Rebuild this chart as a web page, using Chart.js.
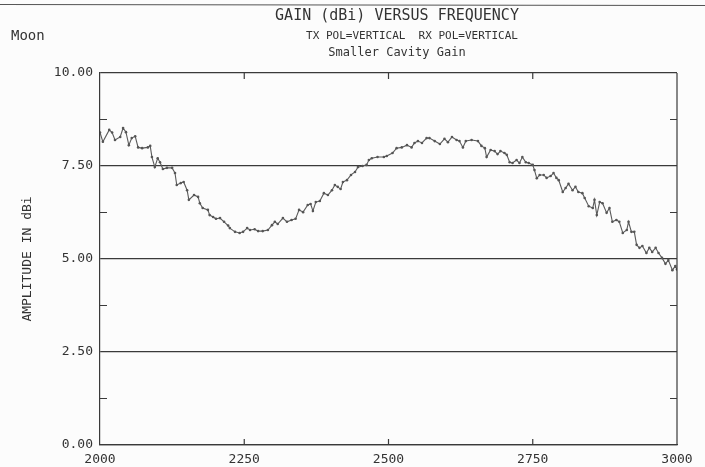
<!DOCTYPE html>
<html>
<head>
<meta charset="utf-8">
<script src="https://cdn.jsdelivr.net/npm/chart.js@4.4.1/dist/chart.umd.min.js"></script>
<style>
  html, body { margin: 0; padding: 0; background: #fcfcfc; }
  #wrap { width: 705px; height: 467px; }
</style>
</head>
<body>
<div id="wrap"><canvas id="gainChart" width="705" height="467"></canvas></div>
<script>
// frequency (MHz) and gain (dBi)
const freqs = [
    2000, 2005, 2016, 2021, 2026, 2035, 2040, 2045, 2050, 2055, 2061, 2066, 2073, 2083, 2087, 2090,
    2095, 2100, 2104, 2109, 2116, 2125, 2130, 2133, 2140, 2145, 2151, 2154, 2163, 2170, 2173, 2178,
    2187, 2190, 2196, 2201, 2208, 2215, 2222,
    2225, 2234, 2242, 2248, 2255, 2260, 2268, 2274, 2282, 2291, 2298, 2303, 2308, 2317, 2324, 2332,
    2339, 2345, 2352, 2360, 2365, 2369, 2374, 2381, 2388, 2395, 2402, 2407, 2412, 2417, 2421, 2428,
    2435, 2442, 2447, 2455, 2462, 2466, 2471, 2481, 2492,
    2497, 2507, 2514, 2523, 2532, 2540, 2545, 2551, 2558, 2566, 2571, 2580, 2589, 2597, 2603, 2610,
    2618, 2623, 2629, 2634, 2644, 2655, 2661, 2667, 2670, 2677, 2684, 2689, 2694, 2701, 2705, 2710,
    2715, 2722, 2727, 2732, 2738, 2743, 2750, 2753, 2757,
    2762, 2769, 2774, 2781, 2786, 2791, 2795, 2802, 2807, 2812, 2819, 2824, 2829, 2836, 2840, 2847,
    2854, 2857, 2861, 2866, 2871, 2878, 2883, 2888, 2895, 2900, 2906, 2913, 2916, 2921, 2926, 2930,
    2935, 2940, 2947, 2952, 2957, 2963, 2968, 2974, 2980, 2985, 2992, 2997, 3000
];
const gains = [
    8.40, 8.15, 8.47, 8.40, 8.20, 8.28, 8.52, 8.41, 8.06, 8.25, 8.30, 8.00, 7.98, 8.00, 8.04, 7.74,
    7.47, 7.71, 7.60, 7.42, 7.45, 7.45, 7.31, 6.99, 7.04, 7.07, 6.85, 6.59, 6.72, 6.67, 6.50, 6.37,
    6.32, 6.18, 6.13, 6.08, 6.10, 6.00, 5.90,
    5.83, 5.73, 5.70, 5.73, 5.83, 5.78, 5.80, 5.75, 5.75, 5.78, 5.91, 6.00, 5.94, 6.10, 6.00, 6.05,
    6.08, 6.32, 6.26, 6.45, 6.48, 6.29, 6.53, 6.56, 6.77, 6.72, 6.85, 6.99, 6.94, 6.88, 7.07, 7.12,
    7.26, 7.34, 7.47, 7.50, 7.53, 7.66, 7.71, 7.74, 7.74,
    7.77, 7.85, 7.98, 8.00, 8.06, 8.00, 8.12, 8.17, 8.12, 8.25, 8.25, 8.17, 8.09, 8.23, 8.14, 8.28,
    8.20, 8.17, 8.00, 8.17, 8.20, 8.17, 8.04, 7.98, 7.74, 7.93, 7.90, 7.82, 7.90, 7.85, 7.80, 7.60,
    7.58, 7.66, 7.58, 7.74, 7.60, 7.58, 7.53, 7.39, 7.17,
    7.26, 7.26, 7.18, 7.23, 7.31, 7.18, 7.12, 6.80, 6.91, 7.02, 6.85, 6.94, 6.80, 6.77, 6.64, 6.42,
    6.37, 6.59, 6.18, 6.53, 6.50, 6.24, 6.37, 6.00, 6.05, 6.00, 5.70, 5.78, 6.00, 5.73, 5.73, 5.38,
    5.30, 5.35, 5.16, 5.30, 5.19, 5.30, 5.16, 5.03, 4.87, 4.97, 4.70, 4.81, 4.72
];
const xTicks = [2000, 2250, 2500, 2750, 3000];
const yMajor = [0, 2.5, 5, 7.5, 10];
const yMinor = [1.25, 3.75, 6.25, 8.75];
const titleLines = ["GAIN (dBi) VERSUS FREQUENCY", "TX POL=VERTICAL  RX POL=VERTICAL", "Smaller Cavity Gain"];

const MONO = "'DejaVu Sans Mono', 'Liberation Mono', monospace";
const INK = "#333";

const framePlugin = {
    id: "frame",
    beforeDraw(chart) {
        const ctx = chart.ctx;
        ctx.save();
        ctx.fillStyle = "#fcfcfc";
        ctx.fillRect(0, 0, chart.width, chart.height);
        // scan edge at the top of the sheet
        ctx.strokeStyle = "#555";
        ctx.lineWidth = 1.2;
        ctx.beginPath();
        ctx.moveTo(0, 4.5);
        ctx.lineTo(chart.width, 5.5);
        ctx.stroke();
        ctx.restore();
    },
    afterDraw(chart) {
        const ctx = chart.ctx;
        const x = chart.scales.x;
        const y = chart.scales.y;
        const { left, right, top, bottom } = chart.chartArea;
        ctx.save();
        ctx.strokeStyle = "#3a3a3a";
        ctx.lineWidth = 1.2;
        ctx.beginPath();
        // right border
        ctx.moveTo(right, top);
        ctx.lineTo(right, bottom);
        // minor y ticks, both sides
        yMinor.forEach(v => {
            const py = y.getPixelForValue(v);
            ctx.moveTo(left, py);
            ctx.lineTo(left + 7, py);
            ctx.moveTo(right, py);
            ctx.lineTo(right - 7, py);
        });
        // x ticks on bottom and top
        xTicks.slice(1, -1).forEach(v => {
            const px = x.getPixelForValue(v);
            ctx.moveTo(px, bottom);
            ctx.lineTo(px, bottom - 6);
            ctx.moveTo(px, top);
            ctx.lineTo(px, top + 6);
        });
        ctx.stroke();

        // titles
        ctx.fillStyle = INK;
        ctx.textAlign = "center";
        ctx.textBaseline = "middle";
        ctx.font = "15px " + MONO;
        ctx.fillText(titleLines[0], 397, 16);
        ctx.font = "11px " + MONO;
        ctx.fillText(titleLines[1], 412, 36);
        ctx.font = "12px " + MONO;
        ctx.fillText(titleLines[2], 397, 53);
        ctx.textAlign = "left";
        ctx.font = "14px " + MONO;
        ctx.fillText("Moon", 11, 36);
        ctx.restore();
    }
};

const ctx = document.getElementById("gainChart");

new Chart(ctx, {
    type: "line",
    data: {
        datasets: [{
            label: "Gain (dBi)",
            data: freqs.map((f, i) => ({ x: f, y: gains[i] })),
            borderColor: "#5a5a5a",
            borderWidth: 1.1,
            pointRadius: 1.3,
            pointBackgroundColor: "#555",
            pointBorderWidth: 0,
            tension: 0
        }]
    },
    options: {
        responsive: false,
        animation: false,
        layout: { padding: { left: 0, top: 73, right: 28, bottom: 0 } },
        plugins: {
            legend: { display: false },
            tooltip: { enabled: false }
        },
        scales: {
            x: {
                type: "linear",
                min: 2000,
                max: 3000,
                afterFit: scale => { scale.height = 22; },
                afterBuildTicks: scale => { scale.ticks = xTicks.map(v => ({ value: v })); },
                ticks: {
                    padding: 7,
                    color: INK,
                    font: { family: MONO, size: 13 },
                    maxRotation: 0,
                    callback: v => String(v)
                },
                grid: { display: false, drawTicks: false },
                border: { display: true, color: "#3a3a3a", width: 1.2 }
            },
            y: {
                min: 0,
                max: 10,
                afterFit: scale => { scale.width = 100; },
                afterBuildTicks: scale => { scale.ticks = yMajor.map(v => ({ value: v })); },
                ticks: {
                    padding: 7,
                    color: INK,
                    font: { family: MONO, size: 13 },
                    callback: v => v.toFixed(2)
                },
                title: {
                    display: true,
                    text: "AMPLITUDE IN dBi",
                    color: INK,
                    font: { family: MONO, size: 13 },
                    padding: { top: 20, bottom: 0 }
                },
                grid: { color: "#3a3a3a", lineWidth: 1.2, drawTicks: false },
                border: { display: true, color: "#3a3a3a", width: 1.2 }
            }
        }
    },
    plugins: [framePlugin]
});
</script>
</body>
</html>
